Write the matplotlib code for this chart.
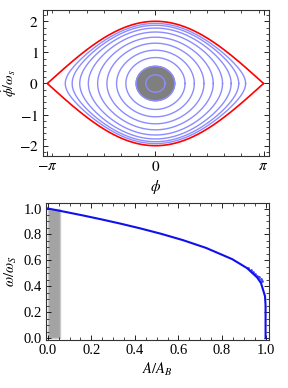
import numpy as np
import matplotlib
matplotlib.use("Agg")
import matplotlib.pyplot as plt
from matplotlib.ticker import MultipleLocator, FixedLocator, FormatStrFormatter

plt.rcParams['font.family'] = ['Liberation Serif', 'DejaVu Serif']
plt.rcParams['mathtext.fontset'] = 'stix'

# top panel: orbit amplitudes in phi (rad)
orbit_amp = [0.28, 0.56, 0.86, 1.13, 1.41, 1.68, 1.95, 2.20, 2.42, 2.62]
disk_amp = 0.56   # shaded core
sep_height = 2.0  # separatrix max of phidot/omega_s

# bottom panel: frequency vs action
act = [0.0, 0.04, 0.0796, 0.1613, 0.2457, 0.3329, 0.4236, 0.5186, 0.6191,
       0.7271, 0.8470, 0.9151, 0.9613, 0.9790, 0.9973, 0.99968, 0.99996, 1.0]
freq = [1.0, 0.987, 0.9742, 0.9465, 0.9165, 0.8837, 0.8472, 0.8057, 0.7569,
        0.6959, 0.6093, 0.5401, 0.4683, 0.4250, 0.3245, 0.2622, 0.2199, 0.0]
dots_x = [0.92, 0.932, 0.943, 0.953, 0.962, 0.970, 0.977, 0.984]
dots_y = [0.540, 0.527, 0.513, 0.498, 0.483, 0.469, 0.455, 0.441]
bar_width = 0.058
bar_top = 1.0

fig = plt.figure(figsize=(2.88, 3.88), dpi=100)

# ---- top: phase space
ax1 = fig.add_axes([0.149, 0.598, 0.785, 0.376])
t = np.linspace(0, 2 * np.pi, 400)
for a in orbit_amp:
    ph = a * np.cos(t)
    p = np.sign(np.sin(t)) * np.sqrt(np.clip(2 * (np.cos(ph) - np.cos(a)), 0, None))
    if a == disk_amp:
        ax1.fill(ph, p, color='#7f7f7f', zorder=2)
    ax1.plot(ph, p, color='#8c8cff', lw=1.0, zorder=3)
ph = np.linspace(-np.pi, np.pi, 400)
ax1.plot(ph, sep_height * np.cos(ph / 2), color='#ff0000', lw=1.2, zorder=4)
ax1.plot(ph, -sep_height * np.cos(ph / 2), color='#ff0000', lw=1.2, zorder=4)
ax1.set_xlim(-3.27, 3.30)
ax1.set_ylim(-2.33, 2.36)
ax1.xaxis.set_major_locator(FixedLocator([-np.pi, 0, np.pi]))
ax1.set_xticklabels([r'$-\pi$', r'$0$', r'$\pi$'])
ax1.xaxis.set_minor_locator(FixedLocator(np.arange(-3, 3.01, 0.5)))
ax1.yaxis.set_minor_locator(MultipleLocator(0.2))
ax1.set_yticks([-2, -1, 0, 1, 2])
ax1.set_yticklabels([r'$-2$', r'$-1$', r'$0$', r'$1$', r'$2$'])
ax1.set_xlabel(r'$\phi$', fontsize=11, labelpad=3)
ax1.set_ylabel(r'$\dot{\phi}/\omega_s$', fontsize=10)
ax1.yaxis.set_label_coords(-0.105, 0.5)

# ---- bottom: frequency vs action
ax2 = fig.add_axes([0.159, 0.124, 0.776, 0.352])
ax2.bar([0.0], [bar_top], width=bar_width, align='edge', color='#a3a3a3',
        edgecolor='#c8c8c8', lw=1.0, zorder=1)
ax2.plot(act, freq, color='#1010ee', lw=1.5, zorder=3)
ax2.plot(dots_x, dots_y, ls='none', marker='.', ms=2.0, color='#4040ff', zorder=2)
ax2.set_xlim(-0.009, 1.017)
ax2.set_ylim(-0.013, 1.04)
ax2.xaxis.set_major_locator(MultipleLocator(0.2))
ax2.xaxis.set_minor_locator(MultipleLocator(0.05))
ax2.yaxis.set_major_locator(MultipleLocator(0.2))
ax2.yaxis.set_minor_locator(MultipleLocator(0.05))
ax2.xaxis.set_major_formatter(FormatStrFormatter('%.1f'))
ax2.yaxis.set_major_formatter(FormatStrFormatter('%.1f'))
ax2.set_xlabel(r'$A/A_B$', fontsize=10.5, labelpad=3)
ax2.set_ylabel(r'$\omega/\omega_S$', fontsize=10.5)
ax2.yaxis.set_label_coords(-0.122, 0.5)

for ax, fs in ((ax1, 11), (ax2, 10.5)):
    ax.tick_params(which='both', direction='in', top=True, right=True,
                   labelsize=fs, pad=3)
    ax.tick_params(which='major', length=3.5, width=0.6)
    ax.tick_params(which='minor', length=2, width=0.5)
    for s in ax.spines.values():
        s.set_linewidth(0.8)
        s.set_color('#333333')

fig.savefig('out.png', dpi=100)
